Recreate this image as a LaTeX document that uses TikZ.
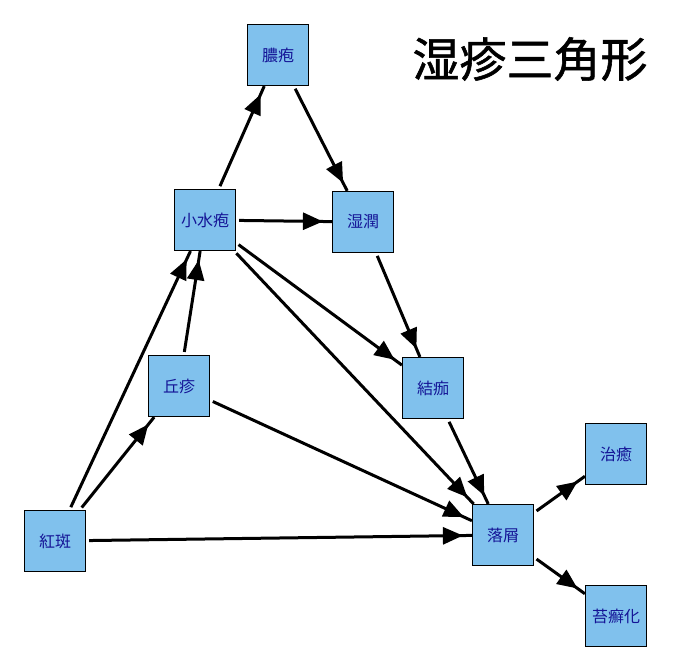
\documentclass[tikz,border=0pt]{standalone}
\usepackage{fontspec}
\usepackage{tikz}
\usetikzlibrary{arrows.meta, decorations.markings}
\newfontfamily\jp{Noto Sans CJK JP}
\newfontfamily\jptitle[FakeBold=1.2]{Noto Sans CJK JP}
\definecolor{boxblue}{RGB}{128,193,237}
\definecolor{boxtext}{RGB}{20,20,150}
\tikzset{
every edge/.style={draw, line width=3pt, shorten <=3pt, % thick connector with a small gap at the start
  postaction={decorate},
  decoration={markings, mark=at position -9pt with {\arrow{Triangle[length=20pt,width=17pt]}}}},
box/.style={draw, line width=1.2pt, fill=boxblue, minimum size=61pt, inner sep=0pt,
  text=boxtext, font=\jp\fontsize{16}{16}\selectfont}, % the light blue squares
}

\begin{document}
\begin{tikzpicture}[x=1pt, y=-1pt]
    \useasboundingbox (0,0) rectangle (672,672);
    \node[box] (noho) at (278,55) {膿疱};
    \node[box] (shoshuho) at (205,220) {小水疱};
    \node[box] (shitsujun) at (363,222) {湿潤};
    \node[box] (kyushin) at (179,386) {丘疹};
    \node[box] (keka) at (433,388) {結痂};
    \node[box] (kohan) at (55,541) {紅斑};
    \node[box] (rakusetsu) at (503,535) {落屑};
    \node[box] (chiyu) at (616,454) {治癒};
    \node[box] (taisen) at (616,616) {苔癬化};

    \node[font=\jptitle\fontsize{47}{47}\selectfont] (title) at (530,59) {湿疹三角形};

    \draw (shoshuho) edge (noho)
    (noho) edge (shitsujun)
    (shoshuho) edge (shitsujun)
    (shoshuho) edge (keka)
    (shoshuho) edge (rakusetsu)
    (shitsujun) edge (keka)
    (keka) edge (rakusetsu)
    (kyushin) edge (shoshuho)
    (kyushin) edge (rakusetsu)
    (kohan) edge (shoshuho)
    (kohan) edge (kyushin)
    (kohan) edge (rakusetsu)
    (rakusetsu) edge (chiyu)
    (rakusetsu) edge (taisen);

\end{tikzpicture}
\end{document}
